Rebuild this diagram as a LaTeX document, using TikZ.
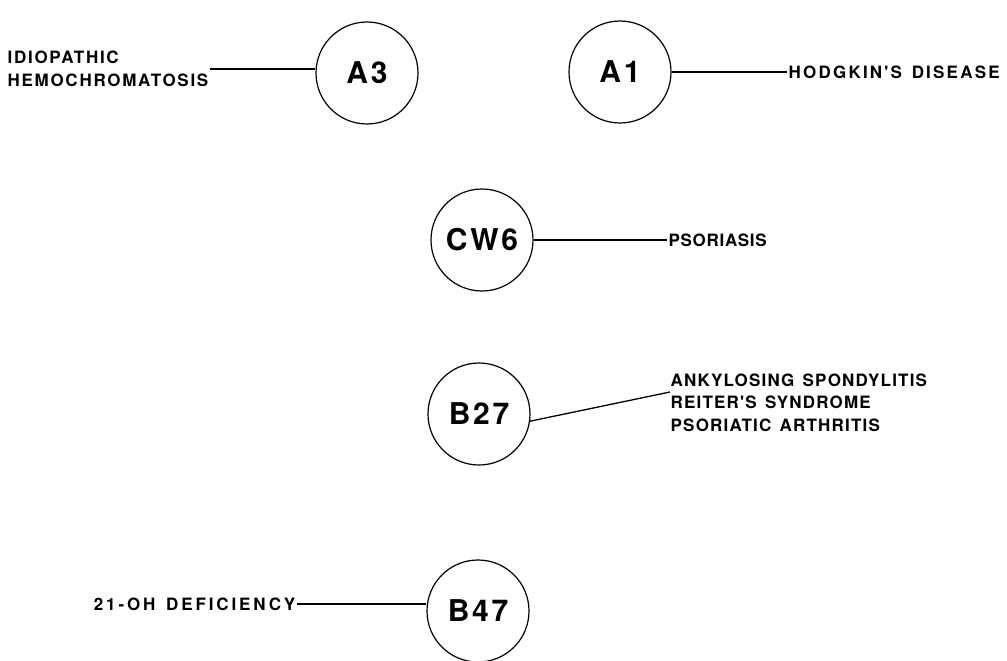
\documentclass[tikz,border=0pt]{standalone}
\usepackage{fontspec}
\setmainfont{TeX Gyre Heros}
\newfontfamily\labfont[WordSpace=1.4]{TeX Gyre Heros}
\newfontfamily\cirfont[LetterSpace=9]{TeX Gyre Heros}
\begin{document}
\begin{tikzpicture}[x=1pt,y=-1pt,
  hla/.style={draw, circle, minimum size=102pt, inner sep=0pt, line width=1.2pt,
    font=\cirfont\bfseries\fontsize{30}{32}\selectfont},
  dis/.style={inner sep=1.5pt, align=left,
    font=\labfont\addfontfeature{LetterSpace=#1}\bfseries\fontsize{17}{22.5}\selectfont},
  dis/.default=10,
  link/.style={line width=1.3pt}]
\useasboundingbox (0,0) rectangle (1007,661);
\fill[white] (0,0) rectangle (1007,661);

\node[hla] (A3) at (367,73) {A3};
\node[hla] (A1) at (620,72) {A1};
\node[hla] (CW6) at (482,240) {CW6};
\node[hla] (B27) at (479,414) {B27};
\node[hla] (B47) at (478,611) {B47};

\node[dis, anchor=east] (idio) at (210,69) {IDIOPATHIC\\HEMOCHROMATOSIS};
\node[dis=13, anchor=west] (hodg) at (787,72) {HODGKIN'S DISEASE};
\node[dis=4, anchor=west] (pso) at (667,240) {PSORIASIS};
\node[dis=7, anchor=north west] (b27t) at (669,372) {ANKYLOSING SPONDYLITIS\\REITER'S SYNDROME\\PSORIATIC ARTHRITIS};
\node[dis=17, anchor=east] (def) at (297,604) {21-OH DEFICIENCY};
\coordinate (b27end) at (670,392);

\draw[link] (idio.east) -- (A3.west |- idio.east);
\draw[link] (A1.east) -- (A1.east -| hodg.west);
\draw[link] (CW6.east) -- (pso.west);
\draw[link] (B27.-8) -- (b27end);
\draw[link] (def.east) -- (B47.west |- def.east);
\end{tikzpicture}
\end{document}
